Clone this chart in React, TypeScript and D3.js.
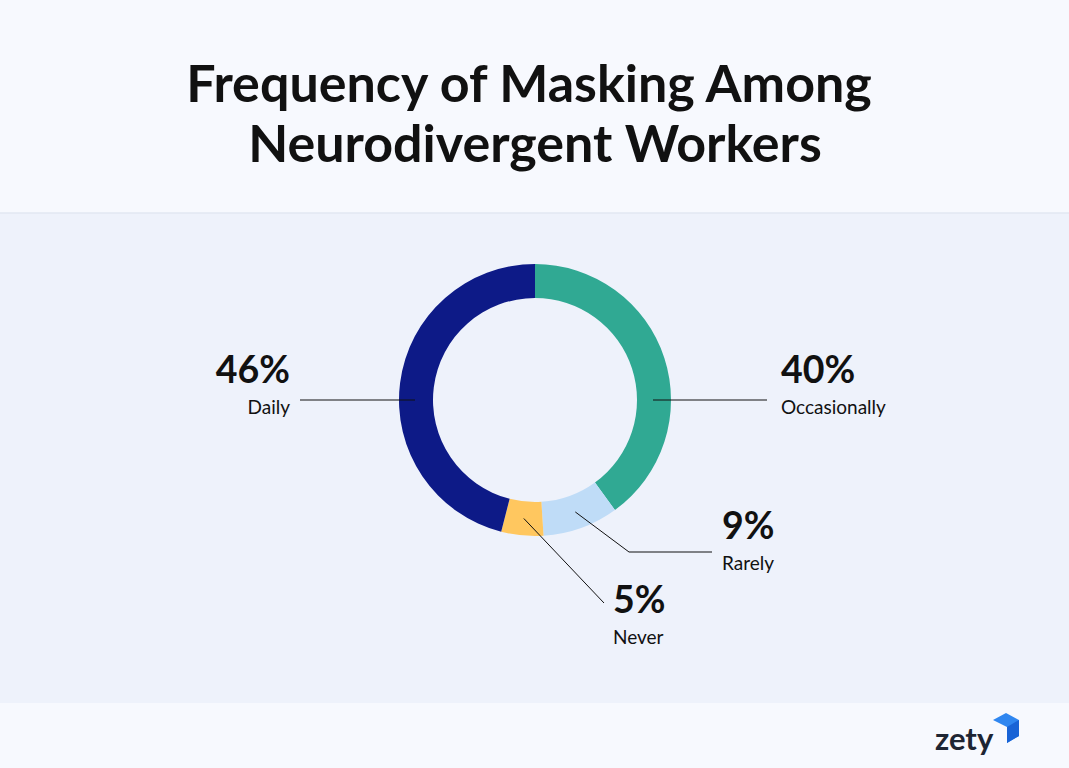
import React, { useRef, useEffect } from 'react';
import * as d3 from 'd3';

const categories = ['Occasionally', 'Rarely', 'Never', 'Daily'];
const values = [40, 9, 5, 46];
const colors = ['#30a993', '#bfdcf7', '#ffc75f', '#0d1a87'];
const titleLines = ['Frequency of Masking Among', 'Neurodivergent Workers'];

const W = 1069;
const H = 768;

const App = () => {
  const ref = useRef<SVGSVGElement | null>(null);

  useEffect(() => {
    const svg = d3.select(ref.current);
    svg.selectAll('*').remove();
    const font = 'Lato, "Open Sans", sans-serif';

    // backgrounds
    svg.append('rect').attr('width', W).attr('height', H).attr('fill', '#f7f9fe');
    svg.append('rect').attr('y', 213).attr('width', W).attr('height', 490).attr('fill', '#eef2fb');
    svg.append('line').attr('x1', 0).attr('x2', W).attr('y1', 213).attr('y2', 213)
      .attr('stroke', '#e2e7f2').attr('stroke-width', 1.5);

    // title (second line sits a little right of the first in the original)
    svg.append('g').selectAll('text').data(titleLines).enter().append('text')
      .attr('x', (d, i) => (i === 0 ? 529 : 535)).attr('y', (d, i) => 102 + i * 60)
      .attr('text-anchor', 'middle')
      .style('font-family', font).style('font-weight', 700).style('font-size', '52px')
      .style('fill', '#111')
      .text(d => d);

    // donut
    const cx = 535, cy = 400, outerR = 136, innerR = 102;
    const pie = d3.pie<number>().sort(null).value(d => d);
    const arcs = pie(values);
    const arc = d3.arc<any>().innerRadius(innerR).outerRadius(outerR);
    const g = svg.append('g').attr('transform', `translate(${cx},${cy})`);
    g.selectAll('path').data(arcs).enter().append('path')
      .attr('d', arc).attr('fill', (d, i) => colors[i]);

    // leader lines and text positions, relative to the centre
    const labelSpec = [
      { pts: (c) => [[118, 0], [232, 0]], tx: 246, ty: -17, anchor: 'start' },
      { pts: (c) => [c, [94, 152], [177, 152]], tx: 187, ty: 139, anchor: 'start' },
      { pts: (c) => [c, [69, 203]], tx: 78, ty: 213, anchor: 'start' },
      { pts: (c) => [[-120, 0], [-235, 0]], tx: -245, ty: -17, anchor: 'end' },
    ];

    arcs.forEach((a, i) => {
      const c = arc.centroid(a);
      const spec = labelSpec[i];
      const pts = spec.pts(c);
      g.append('path')
        .attr('d', d3.line()(pts as any))
        .attr('fill', 'none').attr('stroke', '#111').attr('stroke-width', 1);
      g.append('text')
        .attr('x', spec.tx).attr('y', spec.ty)
        .attr('text-anchor', spec.anchor)
        .style('font-family', font).style('font-weight', 700).style('font-size', '37.5px')
        .style('fill', '#111')
        .text(`${values[i]}%`);
      g.append('text')
        .attr('x', spec.tx).attr('y', spec.ty + 31)
        .attr('text-anchor', spec.anchor)
        .style('font-family', font).style('font-size', '19px')
        .style('fill', '#111')
        .text(categories[i]);
    });

    // logo
    const logo = svg.append('g');
    logo.append('text').attr('x', 935).attr('y', 750)
      .style('font-family', font).style('font-weight', 700).style('font-size', '31px')
      .style('fill', '#1e2533').text('zety');
    logo.append('polygon')
      .attr('points', '1006,713 1019,720 1019,736 1007,743 1007,727 993,720')
      .attr('fill', '#2f86f0');
    logo.append('polygon')
      .attr('points', '1007,727 1019,720 1019,736 1007,743')
      .attr('fill', '#1863d6');
  }, []);

  return (
    <svg ref={ref} width={W} height={H}
      style={{ position: 'absolute', left: 0, top: 0, display: 'block' }} />
  );
};

export default App;
